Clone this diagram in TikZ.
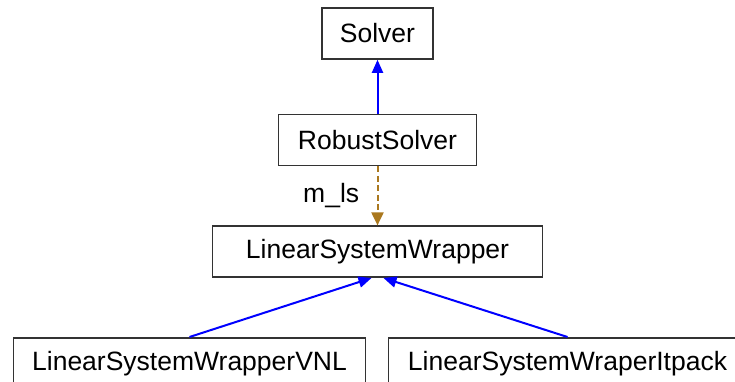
\documentclass[tikz,border=0pt]{standalone}
\usepackage{fontspec}
\setmainfont{Liberation Sans}
\usepackage{tikz}
\usetikzlibrary{arrows.meta, positioning, calc}
\definecolor{assoc}{RGB}{170,120,30}
\tikzstyle{classbox} = [rectangle, draw=black!80, line width=1.6pt, fill=white, minimum height=51pt, inner sep=0pt, text centered, font=\fontsize{26.5}{30}\selectfont]
\tikzstyle{inherit} = [color=blue, line width=2pt, -{Triangle[length=13pt,width=11pt]}]
\tikzstyle{member} = [color=assoc, line width=2pt, dash pattern=on 6pt off 3.5pt, -{Triangle[length=13pt,width=12pt]}]

\begin{document}
\begin{tikzpicture}
    \useasboundingbox (0,0) rectangle (735pt,-382pt);
    % Class hierarchy
    \node[classbox, minimum width=111pt] (solver) at (377.5pt,-33.5pt) {Solver};
    \node[classbox, minimum width=198pt, below=54pt of solver] (robust) {RobustSolver};
    \node[classbox, minimum width=330pt, below=59pt of robust] (lsw) {LinearSystemWrapper};
    \node[classbox, minimum width=352pt, below=59pt of lsw, xshift=-188pt] (vnl) {LinearSystemWrapperVNL};
    \node[classbox, minimum width=358pt, below=59pt of lsw, xshift=190pt] (itpack) {LinearSystemWraperItpack};

    % Connections
    \draw[inherit] (robust) -- (solver);
    \draw[member] (robust) -- node[left=14pt, text=black, font=\fontsize{26.5}{30}\selectfont] (mls) {m\_ls} (lsw);
    \draw[inherit] (vnl.north) -- ([xshift=-6pt]lsw.south);
    \draw[inherit] (itpack.north) -- ([xshift=6pt]lsw.south);
\end{tikzpicture}
\end{document}
